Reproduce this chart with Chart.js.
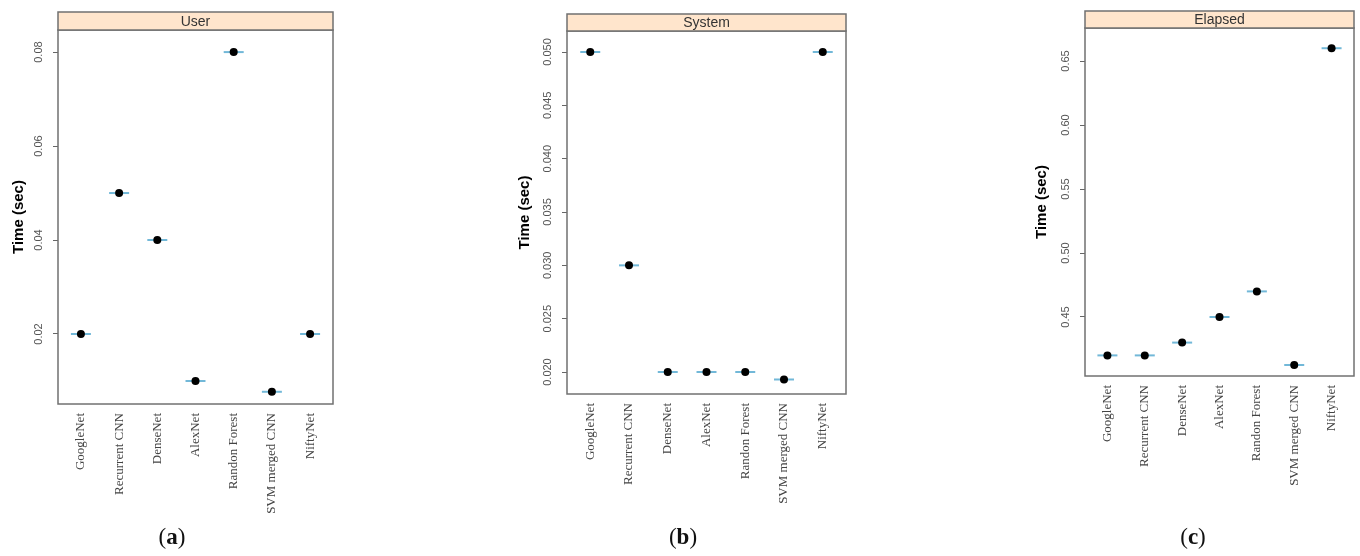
<!DOCTYPE html>
<html>
<head>
<meta charset="utf-8">
<script src="https://cdn.jsdelivr.net/npm/chart.js@4.4.0/dist/chart.umd.min.js"></script>
<style>
  body { margin: 0; background: #fff; width: 1360px; height: 556px; position: relative; overflow: hidden; }
  canvas { position: absolute; top: 0; }
  .cap { position: absolute; top: 525px; line-height: 1; font-family: "Liberation Serif", serif; font-size: 23px; color: #111; transform: translateX(-50%); }
</style>
</head>
<body>
<canvas id="grafikUser" width="345" height="556" style="left:0px"></canvas>
<canvas id="grafikSystem" width="370" height="556" style="left:500px"></canvas>
<canvas id="grafikElapsed" width="370" height="556" style="left:1020px"></canvas>
<div class="cap" style="left:172px">(<b>a</b>)</div>
<div class="cap" style="left:683px">(<b>b</b>)</div>
<div class="cap" style="left:1193px">(<b>c</b>)</div>
<script>
// Data
const models = ['GoogleNet', 'Recurrent CNN', 'DenseNet', 'AlexNet', 'Randon Forest', 'SVM merged CNN', 'NiftyNet'];
const userTime = [0.02, 0.05, 0.04, 0.01, 0.08, 0.0077, 0.02];
const systemTime = [0.05, 0.03, 0.02, 0.02, 0.02, 0.0193, 0.05];
const elapsedTime = [0.42, 0.42, 0.43, 0.45, 0.47, 0.4125, 0.66];

// Tick values and labels for each panel
const userTicks = [0.02, 0.04, 0.06, 0.08];
const userTickLabels = ['0.02', '0.04', '0.06', '0.08'];
const systemTicks = [0.020, 0.025, 0.030, 0.035, 0.040, 0.045, 0.050];
const systemTickLabels = ['0.020', '0.025', '0.030', '0.035', '0.040', '0.045', '0.050'];
const elapsedTicks = [0.45, 0.50, 0.55, 0.60, 0.65];
const elapsedTickLabels = ['0.45', '0.50', '0.55', '0.60', '0.65'];

const SANS = '"Liberation Sans", Arial, sans-serif';
const SERIF = '"Liberation Serif", "Times New Roman", serif';

// Box around the panel plus the peach strip with the title
const panelFrame = {
  id: 'panelFrame',
  afterDraw(chart, args, opts) {
    const { ctx, chartArea: a } = chart;
    const w = a.right - a.left;
    ctx.save();
    ctx.strokeStyle = '#707070';
    ctx.lineWidth = 1.5;
    ctx.strokeRect(a.left, a.top, w, a.bottom - a.top);
    ctx.fillStyle = '#ffe5cc';
    ctx.fillRect(a.left, opts.stripTop, w, a.top - opts.stripTop);
    ctx.strokeRect(a.left, opts.stripTop, w, a.top - opts.stripTop);
    ctx.fillStyle = '#333';
    ctx.font = '14px ' + SANS;
    ctx.textAlign = 'center';
    ctx.textBaseline = 'middle';
    ctx.fillText(opts.label, a.left + w / 2, (opts.stripTop + a.top) / 2 + 1);
    ctx.restore();
  }
};

function makePanel(canvasId, values, p) {
  const pts = values.map((v, i) => ({ x: i, y: v }));
  return new Chart(document.getElementById(canvasId), {
    type: 'scatter',
    data: {
      datasets: [
        // black dots on top
        { data: pts, pointStyle: 'circle', pointRadius: 4, pointHoverRadius: 4,
          borderColor: '#000', backgroundColor: '#000', pointBorderWidth: 0 },
        // short blue bar behind each dot
        { data: pts, pointStyle: 'line', pointRadius: 10, pointHoverRadius: 10,
          borderColor: '#72b8d8', backgroundColor: '#72b8d8', pointBorderWidth: 2 }
      ]
    },
    options: {
      responsive: false,
      animation: false,
      devicePixelRatio: 1,
      layout: { padding: { left: p.padLeft, right: p.padRight, top: p.top, bottom: 0 } },
      plugins: {
        legend: { display: false },
        tooltip: { enabled: false },
        panelFrame: { label: p.label, stripTop: p.stripTop }
      },
      scales: {
        x: {
          type: 'linear', min: -0.6, max: 6.6, bounds: 'data',
          grid: { display: false, drawTicks: false },
          border: { display: false },
          afterBuildTicks: s => { s.ticks = models.map((m, i) => ({ value: i })); },
          afterFit: s => { s.height = 556 - p.bottom; },
          ticks: {
            autoSkip: false, minRotation: 90, maxRotation: 90, padding: 9,
            color: '#444', font: { family: SERIF, size: 13 },
            callback: v => models[v]
          }
        },
        y: {
          type: 'linear', min: p.min, max: p.max, bounds: 'data',
          afterBuildTicks: s => { s.ticks = p.ticks.map(v => ({ value: v })); },
          afterFit: s => { s.width = 56; },
          grid: { drawOnChartArea: false, drawTicks: true, tickLength: 5, color: '#666' },
          border: { display: false },
          ticks: {
            minRotation: 90, maxRotation: 90, crossAlign: 'center', padding: p.tickPad,
            color: '#555', font: { family: SANS, size: 11 },
            callback: (v, i) => p.tickLabels[i]
          },
          title: {
            display: true, text: 'Time (sec)', color: '#000',
            font: { family: SANS, size: 15, weight: 'bold' },
            padding: { top: p.titlePad, bottom: 0 }
          }
        }
      }
    },
    plugins: [panelFrame]
  });
}

makePanel('grafikUser', userTime, {
  label: 'User', stripTop: 12, top: 30, bottom: 404, padLeft: 2, padRight: 11,
  min: 0.0051, max: 0.0847, ticks: userTicks, tickLabels: userTickLabels, tickPad: 3, titlePad: 7.5
});
makePanel('grafikSystem', systemTime, {
  label: 'System', stripTop: 14, top: 31, bottom: 394, padLeft: 11, padRight: 24,
  min: 0.01794, max: 0.05197, ticks: systemTicks, tickLabels: systemTickLabels, tickPad: 0, titlePad: 4.5
});
makePanel('grafikElapsed', elapsedTime, {
  label: 'Elapsed', stripTop: 11, top: 28, bottom: 376, padLeft: 9, padRight: 36,
  min: 0.4039, max: 0.6758, ticks: elapsedTicks, tickLabels: elapsedTickLabels, tickPad: 3, titlePad: 4
});
</script>
</body>
</html>
